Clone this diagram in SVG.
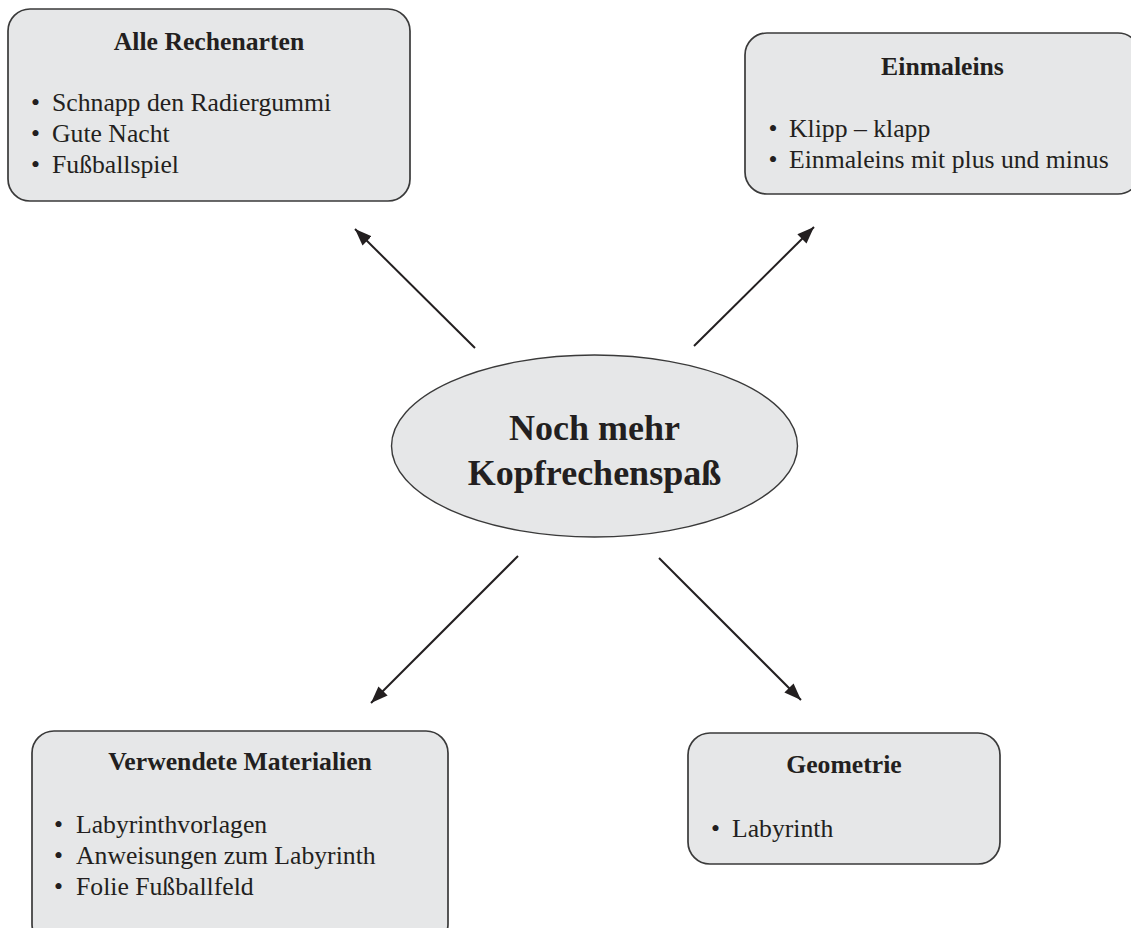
<svg xmlns="http://www.w3.org/2000/svg" width="1131" height="928" viewBox="0 0 1131 928">
<style>
.box{fill:#e6e7e8;stroke:#3a3a3a;stroke-width:1.7}
.t{font-family:"Liberation Serif","Times New Roman",serif;font-size:25.7px;fill:#231f20}
.h{font-weight:bold;text-anchor:middle}
.big{font-family:"Liberation Serif","Times New Roman",serif;font-size:36px;font-weight:bold;fill:#231f20;text-anchor:middle}
.conn{stroke:#231f20;stroke-width:2;fill:none;marker-end:url(#ah)}
</style>
<defs>
<marker id="ah" markerUnits="userSpaceOnUse" markerWidth="18" markerHeight="14" refX="17" refY="6.5" orient="auto">
<path d="M0,0 L17,6.5 L0,13 z" fill="#231f20"/>
</marker>
</defs>
<rect width="1131" height="928" fill="#ffffff"/>

<g id="connectors">
<line class="conn" x1="475" y1="348" x2="355" y2="229"/>
<line class="conn" x1="694" y1="346" x2="814" y2="227"/>
<line class="conn" x1="518" y1="556" x2="371" y2="703"/>
<line class="conn" x1="659" y1="558" x2="801" y2="700"/>
</g>

<g id="node-center">
<ellipse cx="594.5" cy="446" rx="203" ry="91" fill="#e6e7e8" stroke="#3a3a3a" stroke-width="1.4"/>
<text class="big" x="594.5" y="440">Noch mehr</text>
<text class="big" x="594.5" y="485">Kopfrechenspaß</text>
</g>

<g id="node-alle-rechenarten">
<rect class="box" x="8" y="9" width="402" height="192" rx="22" ry="22"/>
<text class="t h" x="209" y="50">Alle Rechenarten</text>
<text class="t" x="31" y="111">•</text><text class="t" x="52" y="111">Schnapp den Radiergummi</text>
<text class="t" x="31" y="142">•</text><text class="t" x="52" y="142">Gute Nacht</text>
<text class="t" x="31" y="173">•</text><text class="t" x="52" y="173">Fußballspiel</text>
</g>

<g id="node-einmaleins">
<rect class="box" x="745" y="33" width="395" height="161" rx="22" ry="22"/>
<text class="t h" x="942.5" y="75">Einmaleins</text>
<text class="t" x="768.5" y="137">•</text><text class="t" x="789" y="137">Klipp – klapp</text>
<text class="t" x="768.5" y="168">•</text><text class="t" x="789" y="168">Einmaleins mit plus und minus</text>
</g>

<g id="node-materialien">
<rect class="box" x="32" y="731" width="416" height="215" rx="22" ry="22"/>
<text class="t h" x="240" y="770">Verwendete Materialien</text>
<text class="t" x="54" y="833">•</text><text class="t" x="76" y="833">Labyrinthvorlagen</text>
<text class="t" x="54" y="864">•</text><text class="t" x="76" y="864">Anweisungen zum Labyrinth</text>
<text class="t" x="54" y="895">•</text><text class="t" x="76" y="895">Folie Fußballfeld</text>
</g>

<g id="node-geometrie">
<rect class="box" x="688" y="733" width="312" height="131" rx="22" ry="22"/>
<text class="t h" x="844" y="773">Geometrie</text>
<text class="t" x="711" y="837">•</text><text class="t" x="732" y="837">Labyrinth</text>
</g>
</svg>
